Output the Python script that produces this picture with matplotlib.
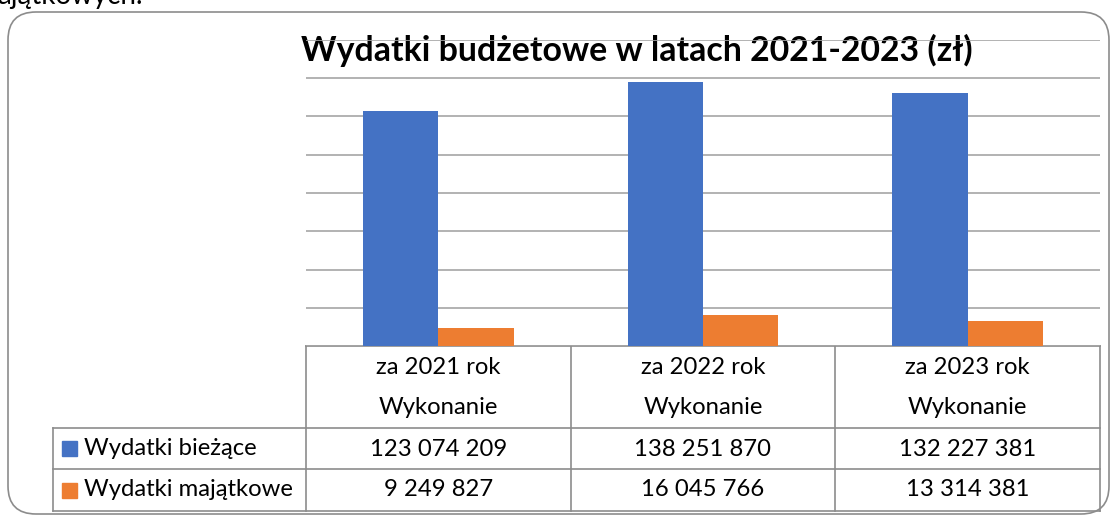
import matplotlib
matplotlib.use('Agg')
import matplotlib.pyplot as plt
from matplotlib.patches import FancyBboxPatch, Rectangle
import numpy as np

plt.rcParams['font.family'] = ['Lato', 'DejaVu Sans']

years = ['za 2021 rok', 'za 2022 rok', 'za 2023 rok']
sub_label = 'Wykonanie'
series = ['Wydatki bieżące', 'Wydatki majątkowe']
biezace = [123074209, 138251870, 132227381]
majatkowe = [9249827, 16045766, 13314381]
colors = ['#4472C4', '#ED7D31']
title = 'Wydatki budżetowe w latach 2021-2023 (zł)'

W, H = 1113, 516
fig = plt.figure(figsize=(W / 100, H / 100), dpi=100)

# background axes in pixel coords (y down)
bg = fig.add_axes([0, 0, 1, 1])
bg.set_xlim(0, W)
bg.set_ylim(H, 0)
bg.axis('off')

# plot area
x0, x1 = 306, 1100
ytop, ybot = 40, 346
ax = fig.add_axes([x0 / W, (H - ybot) / H, (x1 - x0) / W, (ybot - ytop) / H])
ax.patch.set_alpha(0)
x = np.arange(len(years))
bw = 0.285
ax.bar(x - bw / 2, biezace, bw, color=colors[0], zorder=3)
ax.bar(x + bw / 2, majatkowe, bw, color=colors[1], zorder=3)
ax.set_xlim(-0.5, len(years) - 0.5)
ax.set_ylim(0, 160e6)
ax.set_yticks(np.arange(0, 160e6 + 1, 20e6))
ax.yaxis.grid(True, color='#a6a6a6', linewidth=1.2)
ax.set_axisbelow(True)
ax.tick_params(left=False, bottom=False, labelleft=False, labelbottom=False)
for s in ax.spines.values():
    s.set_visible(False)

# rounded frame
bg.add_patch(FancyBboxPatch((8, 12), 1101, 502, boxstyle='round,pad=0,rounding_size=28',
                            fill=False, edgecolor='#8c8c8c', linewidth=1.2, clip_on=False))

# text from the document above, cut off at the top
bg.text(-3, 4, 'ajątkowych.', fontsize=20, color='black', va='baseline', ha='left')

# title
bg.text(637, 61, title, fontsize=24.4, fontweight='bold', ha='center', va='baseline', zorder=5)

# data table
lc = '#8c8c8c'
cw = (x1 - x0) / len(years)
rows = [346, 428, 469, 511]
lx = 53
for xx in [x0 + i * cw for i in range(len(years) + 1)]:
    bg.plot([xx, xx], [rows[0], rows[-1]], color=lc, lw=1.2)
bg.plot([x0, x1], [rows[0], rows[0]], color=lc, lw=1.2)
for yy in rows[1:]:
    bg.plot([lx, x1], [yy, yy], color=lc, lw=1.2)
bg.plot([lx, lx], [rows[1], rows[-1]], color=lc, lw=1.2)

fs = 17.2
for i, yr in enumerate(years):
    cx = x0 + (i + 0.5) * cw
    bg.text(cx, 367, yr, fontsize=fs, ha='center', va='center')
    bg.text(cx, 408, sub_label, fontsize=fs, ha='center', va='center')
    bg.text(cx, 449, f'{biezace[i]:,}'.replace(',', ' '), fontsize=fs, ha='center', va='center')
    bg.text(cx, 490, f'{majatkowe[i]:,}'.replace(',', ' '), fontsize=fs, ha='center', va='center')

for j, name in enumerate(series):
    cy = (rows[j + 1] + rows[j + 2]) / 2
    bg.add_patch(Rectangle((62, cy - 7.5), 15, 15, color=colors[j]))
    bg.text(84, cy, name, fontsize=fs, ha='left', va='center')

fig.savefig('out.png', dpi=100)
